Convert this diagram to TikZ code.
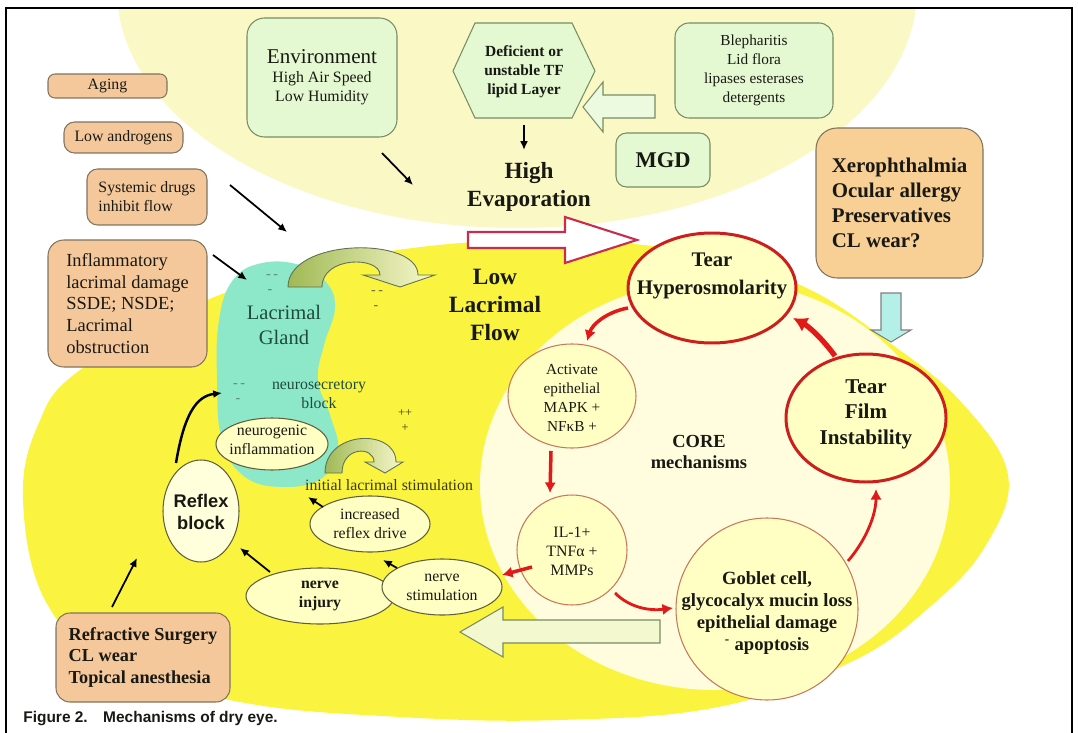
\documentclass[tikz,border=0pt]{standalone}
\usepackage{fontspec}
\setmainfont{Liberation Serif}
\setsansfont{Liberation Sans}
\usetikzlibrary{shapes.geometric,arrows.meta}
\definecolor{topyel}{RGB}{250,248,196}
\definecolor{bigyel}{RGB}{250,244,64}
\definecolor{coreyel}{RGB}{255,253,222}
\definecolor{glandc}{RGB}{140,232,200}
\definecolor{tanc}{RGB}{245,200,155}
\definecolor{xeroc}{RGB}{248,208,150}
\definecolor{tanb}{RGB}{130,115,95}
\definecolor{grnc}{RGB}{228,248,210}
\definecolor{grnb}{RGB}{120,140,100}
\definecolor{ellc}{RGB}{255,255,196}
\definecolor{ellb}{RGB}{95,95,60}
\definecolor{redc}{RGB}{225,25,25}
\definecolor{redb}{RGB}{205,30,30}
\definecolor{crim}{RGB}{200,45,75}
\definecolor{thinred}{RGB}{200,120,90}
\definecolor{txt}{RGB}{25,25,20}
\definecolor{tealtxt}{RGB}{30,75,62}
\definecolor{olivetxt}{RGB}{60,58,15}
\definecolor{olivedk}{RGB}{160,185,85}
\definecolor{olivelt}{RGB}{248,248,205}
\definecolor{cyanc}{RGB}{180,240,232}
\definecolor{dashc}{RGB}{90,130,120}
\tikzset{
  sz/.style 2 args={minimum width=#1*0.02cm,minimum height=#2*0.02cm,inner sep=0pt},
  tbox/.style={draw=tanb,fill=tanc,line width=0.6pt,rounded corners=6pt},
  gbox/.style={draw=grnb,fill=grnc,line width=0.6pt,rounded corners=8pt},
  ell/.style={ellipse,draw=ellb,fill=ellc,line width=0.6pt},
  cell/.style={ellipse,draw=thinred,fill=ellc,line width=0.6pt},
  rell/.style={ellipse,draw=redb,fill=ellc,line width=1.7pt},
  lbl/.style={align=center,inner sep=0pt},
  blk/.style={line width=1pt,-{Latex[length=5pt,width=4.5pt]}},
  redarr/.style={draw=redc,line width=2pt,-{Latex[length=6pt,width=6.5pt]}},
  barrow/.style={line width=0.6pt,line join=miter},
  dsh/.style={text=dashc,font=\fontsize{8}{6}\selectfont,inner sep=0pt}
}
\begin{document}
\begin{tikzpicture}[x=0.02cm,y=-0.02cm,
  font=\fontsize{9}{10.8}\selectfont,
  every node/.append style={text=txt}]
\useasboundingbox (0,0) rectangle (1078,733);
% backgrounds
\begin{scope}
\clip (6,8) rectangle (1072,745);
\fill[topyel] (517,-10) ellipse [x radius=400, y radius=238];
\fill[bigyel] plot[smooth cycle, tension=0.65] coordinates {(23,500) (38,425) (80,370) (207,300) (350,258) (520,240) (680,250) (800,285) (890,343) (962,403) (1008,475) (986,545) (932,605) (851,662) (718,707) (560,720) (400,717) (240,702) (110,662) (45,600)};
\fill[coreyel] (715,485) ellipse [x radius=235, y radius=205];
\end{scope}
% lacrimal gland
\fill[glandc] plot[smooth cycle, tension=0.7] coordinates {(262,263) (300,265) (326,282) (335,308) (324,345) (318,380) (330,415) (338,450) (322,478) (285,487) (245,477) (222,440) (217,380) (219,320) (233,280)};
% frame
\draw[line width=1.2pt] (6,760) -- (6,8) -- (1072,8) -- (1072,760);

% curved block arrows
\draw[draw=grnb!80!black,line width=0.5pt,left color=olivedk,right color=olivelt]
  (288,287) .. controls (288,238) and (418,236) .. (418,275) -- (435,275) -- (400,287) -- (363,275) -- (380,275) .. controls (380,256) and (322,256) .. (322,287) -- cycle;
\draw[draw=grnb!80!black,line width=0.5pt,left color=olivedk,right color=olivelt]
  (325,473) .. controls (325,430) and (396,428) .. (396,462) -- (403,462) -- (385,473) -- (365,462) -- (374,462) .. controls (374,446) and (342,446) .. (342,473) -- cycle;

% straight block arrows
\draw[barrow,draw=crim,line width=1.2pt,fill=white] (468,232) -- (565,232) -- (565,217) -- (637,240) -- (565,263) -- (565,248) -- (468,248) -- cycle;
\draw[barrow,draw=grnb,fill=grnc!70!white] (655,95) -- (603,95) -- (603,82) -- (583,107) -- (603,132) -- (603,118) -- (655,118) -- cycle;
\draw[barrow,draw=grnb,fill=olivelt!80!grnc] (660,620) -- (503,620) -- (503,607) -- (460,632) -- (503,657) -- (503,643) -- (660,643) -- cycle;
\draw[barrow,draw=gray,fill=cyanc] (881,293) -- (901,293) -- (901,330) -- (911,330) -- (891,342) -- (871,330) -- (881,330) -- cycle;

% tan boxes
\node[tbox,sz={119}{24},rounded corners=4pt] (aging) at (107.5,86) {Aging};
\node[tbox,sz={119}{31}] (andro) at (123.5,137.5) {Low androgens};
\node[tbox,sz={120}{56},align=left] (sysd) at (147,197) {Systemic drugs\\inhibit flow};
\node[tbox,sz={159}{127},rounded corners=9pt,align=left,font=\fontsize{10.5}{12.3}\selectfont] (inflam) at (127.5,303.5) {Inflammatory\\lacrimal damage\\SSDE; NSDE;\\Lacrimal\\obstruction};
\node[tbox,sz={174}{89},rounded corners=8pt,align=left,font=\bfseries\fontsize{10.4}{12.5}\selectfont] (refr) at (143,657.5) {Refractive Surgery\\CL wear\\Topical anesthesia};
\node[tbox,fill=xeroc,sz={167}{150},rounded corners=12pt,align=left,font=\bfseries\fontsize{11.9}{14.2}\selectfont] (xero) at (899.5,203) {Xerophthalmia\\Ocular allergy\\Preservatives\\CL wear?};

% green boxes
\node[gbox,sz={150}{119},rounded corners=10pt,align=center] (env) at (322,77.5) {{\fontsize{12}{14}\selectfont Environment}\\High Air Speed\\Low Humidity};
\node[gbox,sz={158}{95},align=center,font=\fontsize{8.7}{10.8}\selectfont] (bleph) at (754,70.5) {Blepharitis\\Lid flora\\lipases esterases\\detergents};
\node[gbox,sz={94}{54},rounded corners=6pt,font=\bfseries\fontsize{12.8}{15}\selectfont] (mgd) at (663,160) {MGD};
\filldraw[draw=grnb,fill=grnc,line width=0.6pt] (453,71) -- (475,23) -- (572,23) -- (595,71) -- (572,118) -- (475,118) -- cycle;
\node[lbl,font=\bfseries\fontsize{8.8}{10.8}\selectfont] (hex) at (524,72) {Deficient or\\unstable TF\\lipid Layer};

% big labels
\node[lbl,font=\bfseries\fontsize{13.2}{16}\selectfont] (evap) at (529,187) {High\\Evaporation};
\node[lbl,font=\bfseries\fontsize{13.3}{16}\selectfont] (lowflow) at (495,305) {Low\\Lacrimal\\Flow};
\node[lbl,text=tealtxt,font=\fontsize{11.7}{13.7}\selectfont] (gland) at (284,325) {Lacrimal\\Gland};
\node[lbl,text=tealtxt] (nblock) at (319,395) {neurosecretory\\block};
\node[lbl,text=olivetxt] (initial) at (389,485) {initial lacrimal stimulation};

% dashes and pluses
\node[dsh] (d1) at (272,277) {-\kern1.5pt-};
\node[dsh] (d2) at (270,292) {-};
\node[dsh] (d3) at (239,386) {-\kern1.5pt-};
\node[dsh] (d4) at (238,401) {-};
\node[dsh,text=ellb] (d5) at (377,293) {-\kern1.5pt-};
\node[dsh,text=ellb] (d6) at (376,308) {-};
\node[dsh,text=olivetxt,font=\fontsize{7}{6}\selectfont] (p1) at (405,413) {++};
\node[dsh,text=olivetxt,font=\fontsize{7}{6}\selectfont] (p2) at (405,428) {+};

% small ellipses
\node[ell,sz={112}{52}] (neurinf) at (272,444) {};
\node[lbl] (neurinft) at (272,440) {neurogenic\\inflammation};
\node[ell,sz={120}{56}] (incdrive) at (370,524) {};
\node[lbl] (incdrivet) at (370,524) {increased\\reflex drive};
\node[ell,sz={148}{56}] (ninj) at (320,596) {};
\node[lbl,font=\bfseries\fontsize{9}{10.8}\selectfont] (ninjt) at (320,596) {nerve\\injury};
\node[ell,sz={120}{56}] (nstim) at (442,587) {};
\node[lbl] (nstimt) at (442,587) {nerve\\stimulation};
\node[ell,fill=ellc!60!white,sz={76}{102}] (reflex) at (201,511) {};
\node[lbl,font=\sffamily\bfseries\fontsize{10.4}{12}\selectfont] (reflext) at (201,512) {Reflex\\block};

% core mechanisms
\node[cell,sz={128}{104}] (act) at (572,396) {};
\node[lbl,font=\fontsize{8.7}{10.8}\selectfont] (actt) at (572,398) {Activate\\epithelial\\MAPK +\\NFκB +};
\node[cell,sz={110}{110}] (il1) at (572,550) {};
\node[lbl] (il1t) at (572,551) {IL-1+\\TNFα +\\MMPs};
\node[cell,sz={182}{182}] (goblet) at (767,609) {};
\node[lbl,font=\bfseries\fontsize{10.6}{12.5}\selectfont] (goblett) at (767,613) {Goblet cell,\\glycocalyx mucin loss\\epithelial damage\\\textsuperscript{-} apoptosis};
\node[lbl,font=\bfseries\fontsize{10.5}{12}\selectfont] (core) at (699,452) {CORE\\mechanisms};
\node[rell,sz={168}{110}] (hyper) at (712,288) {};
\node[lbl,font=\bfseries\fontsize{11.8}{16}\selectfont] (hypert) at (712,276) {Tear\\Hyperosmolarity};
\node[rell,sz={160}{128}] (tfi) at (866,418) {};
\node[lbl,font=\bfseries\fontsize{12}{14.5}\selectfont] (tfit) at (866,414) {Tear\\Film\\Instability};

% caption
\node[anchor=base west,inner sep=0pt,font=\sffamily\bfseries\fontsize{8.8}{10}\selectfont] (cap) at (23,722) {Figure 2.\quad Mechanisms of dry eye.};

% black arrows
\coordinate (envA) at (382,153); \coordinate (envB) at (413,185);
\coordinate (hexA) at (524,125); \coordinate (hexB) at (524,150);
\coordinate (sysA) at (230,185); \coordinate (sysB) at (287,232);
\coordinate (infA) at (213,255); \coordinate (infB) at (247,280);
\coordinate (refA) at (176,463); \coordinate (refB) at (222,393);
\coordinate (rfA) at (112,607); \coordinate (rfB) at (137,558);
\coordinate (njA) at (270,572); \coordinate (njB) at (240,548);
\coordinate (nsA) at (397,568); \coordinate (nsB) at (383,560);
\coordinate (idA) at (323,507); \coordinate (idB) at (308,497);
\draw[blk] (envA) -- (envB);
\draw[blk] (hexA) -- (hexB);
\draw[blk] (sysA) -- (sysB);
\draw[blk] (infA) -- (infB);
\draw[blk,line width=1.4pt] (refA) .. controls (184,415) and (196,396) .. (refB);
\draw[blk] (rfA) -- (rfB);
\draw[blk] (njA) -- (njB);
\draw[blk] (nsA) -- (nsB);
\draw[blk] (idA) -- (idB);

% red arrows
\coordinate (r1A) at (628,308); \coordinate (r1B) at (587,341);
\coordinate (r2A) at (551,451); \coordinate (r2B) at (550,493);
\coordinate (r3A) at (532,567); \coordinate (r3B) at (502,575);
\coordinate (r4A) at (615,593); \coordinate (r4B) at (673,608);
\coordinate (r5A) at (848,561); \coordinate (r5B) at (876,489);
\coordinate (r6A) at (835,356); \coordinate (r6B) at (793,318);
\draw[redarr] (r1A) .. controls (606,312) and (592,325) .. (r1B);
\draw[redarr] (r2A) -- (r2B);
\draw[redarr] (r3A) -- (r3B);
\draw[redarr,line width=1.6pt] (r4A) .. controls (630,608) and (650,611) .. (r4B);
\draw[redarr,line width=1.6pt] (r5A) .. controls (866,540) and (876,515) .. (r5B);
\draw[redarr,line width=3pt,-{Latex[length=8pt,width=9pt]}] (r6A) .. controls (822,338) and (808,326) .. (r6B);
\end{tikzpicture}
\end{document}
